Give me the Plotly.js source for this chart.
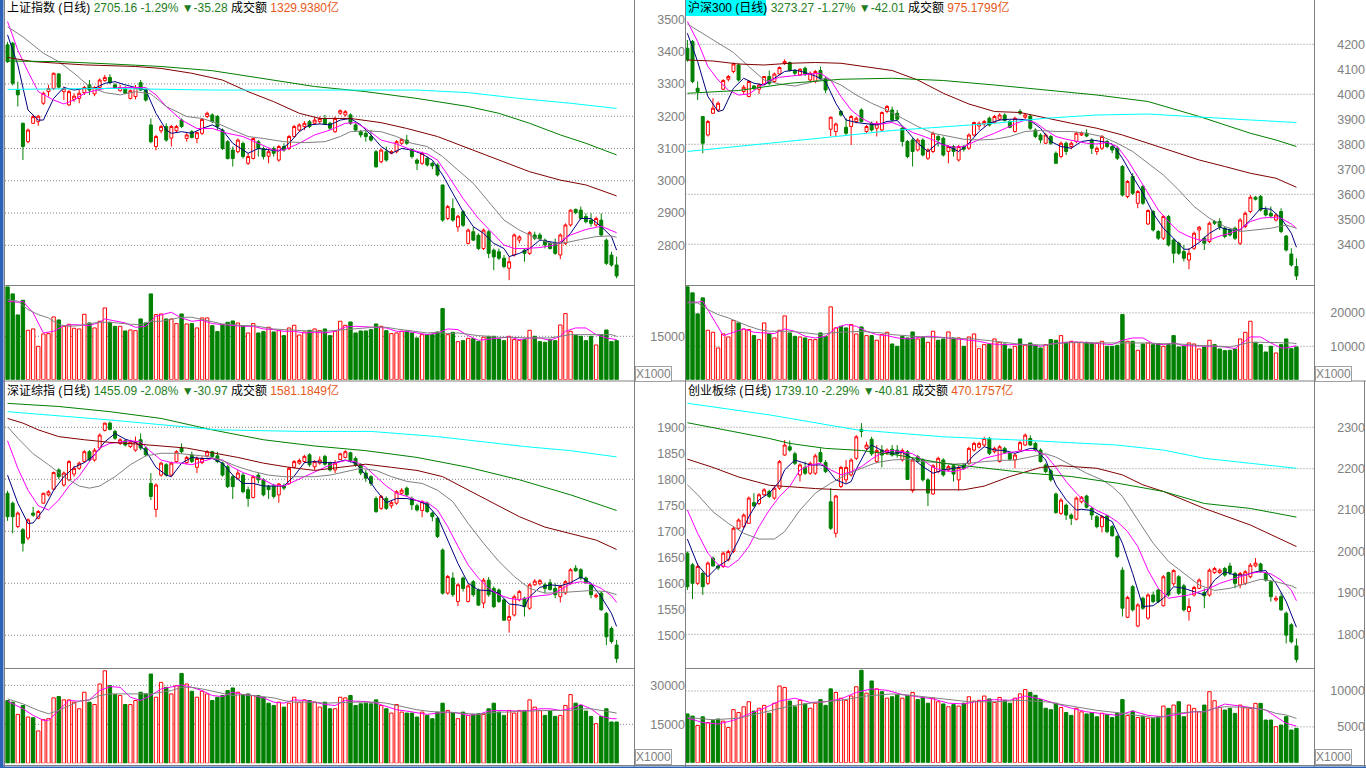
<!DOCTYPE html>
<html>
<head>
<meta charset="utf-8">
<script src="https://cdn.plot.ly/plotly-3.0.1.min.js"></script>
<style>
  body { margin: 0; background: #ffffff; }
  #chart { width: 1366px; height: 768px; }
</style>
</head>
<body>
<div id="chart"></div>
<script>
// ---------- 标题 ----------
var titleName = ['上证指数 (日线)', '沪深300 (日线)', '深证综指 (日线)', '创业板综 (日线)'];
var titleQuote = ['2705.16 -1.29%', '3273.27 -1.27%', '1455.09 -2.08%', '1739.10 -2.29%'];
var titleChange = ['▼-35.28', '▼-42.01', '▼-30.97', '▼-40.81'];
var titleAmount = ['1329.9380亿', '975.1799亿', '1581.1849亿', '470.1757亿'];

// ---------- 刻度 ----------
var shTicks = [3500, 3400, 3300, 3200, 3100, 3000, 2900, 2800];
var shGrid = [3400, 3300, 3200, 3100, 3000, 2900, 2800];
var hsTicks = [4200, 4100, 4000, 3900, 3800, 3700, 3600, 3500, 3400];
var hsGrid = [4200, 4000, 3800, 3600, 3400];
var szTicks = [1900, 1850, 1800, 1750, 1700, 1650, 1600, 1550, 1500];
var szGrid = [1900, 1800, 1700, 1600, 1500];
var cyTicks = [2300, 2200, 2100, 2000, 1900, 1800];
var cyGrid = [2300, 2200, 2100, 2000, 1900, 1800];
var shVolTicks = [15000];
var hsVolTicks = [20000, 10000];
var szVolTicks = [30000, 15000];
var cyVolTicks = [10000, 5000];

// ---------- 上证指数 ----------
var shOpen = [3421,3426,3281,3178,3121,3178,3183,3240,3276,3286, 3331,3276,3235,3252,3255,3273,3297,3269,3289,3310,
  3320,3297,3279,3286,3255,3261,3304,3283,3173,3106, 3155,3168,3132,3155,3188,3131,3152,3131,3147,3199,
  3204,3199,3157,3121,3095,3090,3116,3054,3069,3121, 3100,3076,3100,3064,3106,3100,3137,3157,3168,3183,
  3178,3183,3193,3178,3152,3209,3204,3204,3173,3152, 3147,3137,3090,3059,3090,3085,3090,3116,3126,3097,
  3064,3054,3069,3054,3049,2987,2883,2914,2857,2904, 2806,2842,2831,2790,2842,2785,2780,2760,2729,2770,
  2816,2785,2775,2832,2832,2816,2806,2806,2770,2806, 2863,2911,2909,2889,2878,2863,2878,2816,2770,2739];
var shHigh = [3430,3430,3307,3180,3162,3204,3204,3276,3297,3335, 3333,3292,3281,3271,3281,3294,3312,3293,3317,3328,
  3330,3302,3297,3293,3283,3297,3312,3286,3193,3142, 3173,3178,3173,3173,3193,3147,3157,3152,3193,3214,
  3209,3204,3162,3126,3106,3131,3121,3085,3134,3126, 3106,3100,3106,3111,3116,3142,3173,3178,3185,3188,
  3197,3199,3204,3183,3199,3221,3219,3209,3178,3157, 3157,3157,3095,3100,3106,3095,3126,3131,3142,3100,
  3069,3090,3075,3059,3054,2987,2925,2945,2894,2909, 2852,2857,2837,2852,2847,2790,2790,2770,2765,2837,
  2831,2790,2844,2842,2839,2821,2811,2821,2837,2868, 2911,2914,2920,2899,2899,2889,2899,2821,2780,2765];
var shLow = [3365,3295,3230,3064,3116,3176,3170,3235,3261,3281, 3286,3250,3232,3245,3240,3266,3266,3262,3286,3307,
  3299,3284,3276,3269,3252,3252,3278,3245,3116,3094, 3147,3121,3106,3150,3163,3121,3131,3116,3142,3194,
  3178,3157,3095,3066,3044,3085,3069,3049,3066,3075, 3066,3054,3075,3059,3090,3095,3134,3152,3157,3163,
  3173,3176,3173,3157,3149,3204,3199,3173,3152,3134, 3121,3121,3041,3054,3059,3082,3085,3111,3111,3069,
  3033,3049,3044,3036,3013,2873,2878,2873,2842,2857, 2803,2814,2785,2785,2760,2723,2754,2729,2692,2765,
  2806,2749,2770,2816,2816,2790,2787,2770,2757,2801, 2858,2896,2878,2868,2858,2858,2827,2739,2734,2698];
var shClose = [3369,3302,3266,3106,3157,3199,3200,3271,3286,3333, 3290,3286,3276,3262,3271,3289,3281,3289,3312,3320,
  3304,3286,3289,3271,3279,3289,3281,3250,3121,3137, 3168,3126,3168,3168,3168,3142,3134,3149,3190,3209,
  3183,3168,3100,3069,3069,3126,3075,3075,3131,3100, 3075,3090,3085,3106,3095,3137,3168,3173,3178,3168,
  3188,3193,3176,3163,3193,3217,3214,3178,3157,3142, 3137,3126,3043,3095,3064,3090,3121,3128,3116,3075,
  3054,3085,3049,3046,3018,2878,2920,2878,2890,2862, 2847,2816,2790,2847,2775,2764,2760,2734,2749,2832,
  2826,2775,2839,2822,2820,2801,2790,2775,2832,2863, 2909,2901,2883,2873,2868,2883,2832,2744,2739,2705.16];
var shVol = [32080,29660,22390,27460,17080,17540,11540,15810,15930,21700, 20660,18460,19160,17770,17540,22620,19620,17890,20200,24810,
  19850,18460,18460,16850,17190,16960,21000,19620,29660,22500, 22730,21000,21000,19390,22730,19270,19390,17890,21350,21350,
  18690,16620,19040,19850,20310,19620,18690,16160,19390,16160, 16620,18120,16500,16960,15230,17890,18810,15460,16500,17080,
  17540,16960,17540,15230,16730,20200,18810,19960,16160,16850, 16850,17310,19270,18460,16960,15930,16160,16730,16730,16160,
  14430,15580,15580,15580,16500,24580,15580,16390,13160,13500, 14310,14190,13270,14660,15000,15000,14080,13500,15000,13850,
  13620,13850,17080,15000,13160,12920,13850,13500,18920,22850, 16730,15350,15000,13500,15000,12000,15580,17190,13160,13500];
var shMa5 = [[0,3452],[2,3359],[4,3219],[6,3188],[7,3188],[9,3255],[11,3289],[13,3281],[15,3286],[17,3286],[19,3302],[21,3307],
  [23,3297],[25,3289],[27,3281],[29,3209],[31,3157],[32,3147],[34,3152],[36,3147],[38,3162],[40,3173],[42,3157],[44,3116],
  [46,3095],[47,3085],[49,3100],[51,3095],[53,3092],[55,3116],[57,3152],[59,3173],[61,3176],[63,3173],[65,3188],[67,3193],
  [69,3173],[71,3142],[73,3106],[75,3085],[77,3100],[79,3095],[81,3083],[83,3064],[85,3018],[87,2961],[89,2904],[91,2858],
  [93,2837],[95,2806],[97,2790],[98,2765],[100,2775],[102,2790],[104,2816],[106,2811],[108,2806],[110,2837],[112,2883],
  [114,2883],[116,2858],[118,2827],[119,2785]];
var shMa10 = [[0,3493],[2,3405],[4,3338],[6,3276],[9,3250],[11,3238],[13,3250],[15,3271],[17,3279],[19,3286],[23,3289],
  [27,3289],[29,3266],[31,3230],[34,3188],[37,3162],[40,3162],[43,3147],[46,3137],[49,3116],[52,3095],[54,3095],[57,3116],
  [60,3142],[63,3157],[66,3178],[68,3180],[70,3162],[73,3126],[76,3114],[79,3095],[82,3083],[84,3064],[86,3018],[89,2945],
  [92,2883],[95,2832],[97,2801],[99,2790],[101,2790],[104,2793],[107,2801],[110,2832],[113,2849],[116,2859],[118,2847],[119,2839]];
var shMa20 = [[0,3477],[3,3446],[7,3395],[10,3369],[13,3333],[16,3292],[19,3273],[22,3266],[25,3276],[28,3269],[31,3230],
  [35,3199],[38,3193],[41,3178],[44,3157],[47,3137],[50,3131],[54,3121],[58,3118],[62,3121],[65,3137],[67,3152],[70,3155],
  [73,3152],[76,3137],[79,3116],[82,3106],[85,3075],[88,3033],[91,2992],[94,2935],[97,2878],[100,2847],[103,2825],[106,2806],
  [109,2808],[112,2818],[115,2827],[118,2829],[119,2825]];
var shMa60 = [[0,3382],[5,3369],[15,3359],[25,3354],[30,3348],[36,3333],[42,3312],[47,3276],[52,3245],[57,3209],[61,3193],
  [67,3193],[73,3180],[78,3162],[84,3137],[90,3100],[96,3064],[102,3028],[108,3002],[113,2987],[119,2953]];
var shMa120 = [[0,3371],[10,3369],[20,3362],[30,3354],[40,3341],[50,3317],[60,3292],[70,3276],[80,3255],[90,3230],[96,3209],
  [102,3178],[108,3142],[113,3116],[119,3080]];
var shMa250 = [[0,3283],[20,3286],[40,3281],[60,3281],[70,3283],[80,3281],[90,3273],[100,3255],[110,3240],[119,3224]];
var shVolMa5 = [[0,27120],[2,26770],[3,27120],[5,23080],[7,16160],[9,16730],[11,18690],[13,19040],[16,18690],[18,19850],
  [19,21000],[21,20430],[23,19620],[25,18120],[27,18460],[29,21930],[31,22850],[32,23310],[34,21350],[36,20200],[38,20540],
  [40,19390],[42,19040],[44,18690],[46,18460],[48,18460],[50,17540],[52,17310],[54,16730],[56,16730],[58,16160],[60,16390],
  [62,16160],[64,16730],[66,18230],[68,18460],[70,18230],[72,18230],[74,17890],[76,16730],[78,16730],[80,16160],[82,15580],
  [84,16160],[86,17540],[88,17310],[90,15230],[92,13620],[94,14080],[96,14430],[98,14770],[100,13850],[102,14430],[104,14430],
  [106,13620],[108,15000],[109,16730],[111,17890],[113,17890],[115,15580],[117,14430],[119,13850]];
var shVolMa10 = [[0,27700],[2,27120],[4,24230],[6,22500],[8,21350],[10,19040],[12,18460],[14,18690],[16,19390],[18,19850],
  [20,19850],[22,19390],[24,19160],[26,19040],[28,20200],[30,20200],[32,21000],[34,21580],[36,21580],[38,20770],[40,19850],
  [42,19270],[44,19040],[46,18690],[48,18690],[50,18120],[52,17540],[54,17310],[56,17080],[58,16730],[60,16730],[62,16730],
  [64,16960],[66,17310],[68,17660],[70,17890],[72,18230],[74,18120],[76,17540],[78,17080],[80,16730],[82,16160],[84,16390],
  [86,15930],[88,16160],[90,15580],[92,15230],[94,15000],[96,14660],[98,14660],[100,14430],[102,14430],[104,14430],[106,14430],
  [108,15000],[110,15580],[112,15580],[114,15580],[116,15580],[118,15580],[119,15000]];

// ---------- 沪深300 ----------
var hsOpen = [4184,4211,4024,3911,3837,3924,3937,4020,4060,4091, 4117,4011,3991,4033,4020,4041,4071,4051,4081,4124,
  4127,4095,4077,4104,4057,4051,4095,4064,3860,3851, 3931,3868,3871,3891,3937,3851,3884,3864,3857,3931,
  3937,3924,3864,3811,3817,3777,3817,3744,3771,3831, 3824,3771,3791,3737,3791,3784,3837,3873,3881,3904,
  3887,3900,3917,3891,3851,3931,3908,3913,3857,3837, 3804,3831,3764,3751,3804,3791,3811,3837,3844,3817,
  3771,3784,3811,3791,3784,3711,3591,3671,3564,3631, 3481,3531,3451,3424,3511,3417,3404,3371,3337,3384,
  3457,3424,3411,3491,3491,3464,3457,3464,3404,3471, 3531,3588,3591,3537,3524,3497,3531,3433,3361,3311];
var hsHigh = [4217,4217,4051,3913,3897,3984,3971,4060,4077,4127, 4124,4037,4057,4037,4044,4073,4095,4087,4111,4140,
  4131,4100,4104,4111,4091,4097,4111,4071,3911,3887, 3937,3904,3917,3911,3944,3877,3891,3893,3931,3957,
  3951,3937,3871,3817,3824,3824,3824,3784,3851,3837, 3831,3797,3797,3797,3797,3844,3891,3891,3897,3911,
  3917,3924,3924,3897,3911,3940,3924,3921,3864,3844, 3844,3837,3771,3811,3811,3811,3851,3851,3860,3824,
  3791,3837,3817,3797,3791,3717,3657,3684,3617,3637, 3540,3537,3457,3517,3517,3424,3411,3397,3384,3451,
  3473,3431,3491,3497,3504,3471,3464,3471,3504,3531, 3597,3593,3597,3551,3551,3524,3544,3437,3384,3344];
var hsLow = [4130,4044,3977,3764,3831,3921,3931,4017,4051,4084, 4051,3997,3988,4017,4001,4036,4036,4047,4077,4117,
  4091,4073,4073,4073,4051,4044,4057,4004,3833,3831, 3911,3837,3797,3884,3887,3844,3851,3831,3851,3924,
  3891,3895,3791,3744,3711,3771,3751,3737,3764,3791, 3751,3724,3751,3731,3771,3777,3831,3857,3871,3871,
  3884,3895,3891,3864,3847,3917,3900,3857,3824,3804, 3801,3797,3721,3744,3757,3780,3804,3833,3828,3761,
  3757,3777,3784,3764,3737,3591,3584,3597,3544,3557, 3477,3451,3417,3417,3391,3324,3357,3331,3300,3377,
  3411,3377,3404,3477,3457,3424,3431,3417,3397,3464, 3524,3575,3531,3511,3504,3491,3444,3371,3311,3257];
var hsClose = [4137,4051,4011,3804,3891,3944,3964,4055,4071,4121, 4057,4028,4051,4024,4037,4071,4044,4081,4107,4131,
  4095,4084,4100,4081,4084,4091,4064,4017,3908,3881, 3917,3844,3911,3904,3891,3871,3857,3884,3927,3951,
  3897,3900,3811,3751,3771,3817,3757,3777,3844,3817, 3757,3791,3771,3791,3780,3837,3887,3884,3891,3877,
  3911,3917,3895,3868,3904,3924,3917,3864,3831,3817, 3837,3804,3724,3804,3771,3804,3844,3844,3833,3784,
  3784,3831,3791,3777,3744,3597,3651,3604,3611,3564, 3535,3457,3424,3511,3397,3364,3364,3344,3364,3444,
  3468,3404,3484,3484,3471,3431,3437,3424,3497,3524, 3588,3580,3537,3517,3513,3517,3451,3377,3317,3273.27];
var hsVol = [27800,26000,19700,24500,14800,14200,9500,13700,12800,17700, 17000,15200,15000,13200,12000,17000,13800,12500,14800,19100,
  14000,13000,12800,12500,12000,12000,14000,13000,21800,15500, 16000,15500,16500,13700,15800,13200,13200,11800,13500,14200,
  10700,10000,13000,12500,14300,12200,12800,11200,14500,11800, 12200,14300,12500,12500,10000,12800,13700,9300,10500,10700,
  12200,11200,10700,9200,10000,12200,10300,11000,10300,9500, 10500,12000,11800,13200,11200,11500,11200,11200,11200,11000,
  11000,11500,10000,10000,10300,19500,11500,11500,8800,10700, 11000,10500,10800,10000,10500,13200,9800,10000,11000,10700,
  9200,9800,11800,10500,9200,8700,8800,9200,12200,14200, 17500,11200,10500,8300,10000,8000,10500,12200,9300,9800];
var hsMa5 = [[0,4244],[2,4131],[4,3991],[6,3931],[7,3937],[9,4024],[11,4064],[13,4044],[15,4037],[17,4064],[19,4091],
  [21,4097],[23,4087],[25,4073],[27,4051],[29,3964],[31,3897],[33,3887],[35,3881],[37,3877],[39,3891],[41,3895],[43,3851],
  [45,3804],[47,3771],[49,3807],[51,3791],[53,3771],[55,3804],[57,3851],[59,3884],[61,3897],[63,3900],[65,3900],[67,3895],
  [69,3864],[71,3811],[73,3791],[75,3784],[77,3811],[79,3817],[81,3811],[83,3801],[85,3744],[87,3671],[89,3604],[91,3524],
  [93,3464],[95,3424],[97,3380],[98,3380],[100,3407],[102,3444],[104,3468],[106,3457],[108,3457],[110,3497],[112,3544],
  [114,3540],[116,3504],[118,3444],[119,3388]];
var hsMa10 = [[0,4291],[2,4211],[4,4111],[6,4057],[8,4017],[10,3997],[12,4001],[14,4028],[16,4055],[18,4068],[20,4073],
  [22,4077],[24,4081],[26,4084],[28,4057],[30,3991],[32,3937],[34,3904],[36,3884],[38,3881],[40,3887],[42,3871],[44,3847],
  [46,3833],[48,3817],[50,3797],[52,3788],[54,3791],[56,3811],[58,3828],[60,3844],[62,3864],[64,3881],[66,3897],[68,3887],
  [70,3857],[72,3831],[74,3820],[76,3811],[78,3804],[80,3801],[82,3807],[84,3791],[86,3737],[88,3671],[90,3604],[92,3537],
  [94,3491],[96,3451],[98,3431],[100,3417],[102,3417],[104,3433],[106,3444],[108,3460],[110,3491],[112,3504],[114,3508],
  [116,3504],[118,3481],[119,3464]];
var hsMa20 = [[0,4281],[3,4244],[6,4204],[9,4167],[12,4111],[15,4057],[18,4041],[21,4033],[24,4047],[27,4064],[30,4037],
  [33,3997],[36,3964],[39,3937],[42,3904],[45,3871],[48,3844],[51,3831],[54,3820],[57,3817],[60,3820],[63,3831],[66,3851],
  [69,3855],[72,3851],[75,3851],[78,3844],[81,3831],[84,3804],[87,3771],[90,3724],[93,3677],[96,3617],[99,3551],[102,3504],
  [105,3471],[108,3451],[111,3457],[114,3464],[117,3477],[119,3464]];
var hsMa60 = [[0,4137],[5,4133],[10,4121],[15,4117],[20,4124],[25,4127],[30,4124],[35,4111],[40,4095],[45,4057],[50,4004],
  [55,3961],[60,3931],[65,3927],[70,3904],[75,3884],[80,3864],[85,3837],[90,3804],[95,3771],[100,3737],[105,3711],[110,3684],
  [115,3664],[119,3628]];
var hsMa120 = [[0,4004],[10,4015],[20,4044],[30,4060],[40,4064],[50,4055],[60,4037],[70,4017],[80,3997],[90,3971],[100,3911],
  [110,3844],[115,3817],[119,3791]];
var hsMa250 = [[0,3771],[10,3791],[20,3811],[30,3833],[40,3855],[50,3868],[60,3884],[70,3904],[80,3917],[90,3921],[100,3908],
  [110,3897],[119,3887]];
var hsVolMa5 = [[0,23200],[2,23200],[3,23500],[5,18500],[7,13200],[9,14200],[11,15200],[13,14200],[15,14000],[17,13800],
  [19,15200],[21,14500],[23,13000],[25,12500],[27,13000],[29,15500],[31,16500],[33,16000],[35,14500],[37,13500],[39,13200],
  [41,12500],[43,12200],[45,12500],[47,13000],[49,12800],[51,12500],[53,12200],[55,12000],[57,11500],[59,10800],[61,10500],
  [63,10500],[65,10500],[67,10500],[69,10000],[71,10700],[73,11000],[75,11300],[77,11200],[79,11000],[81,10800],[83,10500],
  [85,11800],[87,12500],[89,12500],[91,10800],[93,10500],[95,11000],[97,10200],[99,10200],[101,10000],[103,10000],[105,9800],
  [107,9300],[108,10500],[110,12800],[112,12800],[114,11000],[116,9500],[117,9500],[119,10200]];
var hsVolMa10 = [[0,23000],[2,23000],[4,21000],[6,19500],[8,18500],[10,17200],[12,16000],[14,15000],[16,14500],[18,14500],
  [20,14500],[22,14200],[24,13800],[26,13500],[28,14000],[30,14200],[32,14500],[34,14500],[36,14200],[38,14000],[40,13500],
  [42,13200],[44,13000],[46,12800],[48,12700],[50,12500],[52,12500],[54,12300],[56,12200],[58,11800],[60,11500],[62,11200],
  [64,10800],[66,10500],[68,10500],[70,10400],[72,10800],[74,11000],[76,11200],[78,11000],[80,11000],[82,11000],[84,11000],
  [86,11200],[88,11000],[90,11000],[92,10800],[94,10800],[96,10700],[98,10500],[100,10200],[102,10200],[104,10000],[106,9800],
  [108,10500],[110,11200],[112,11200],[114,11200],[116,11200],[118,11000],[119,10800]];

// ---------- 深证综指 ----------
var szOpen = [1773,1754,1709,1703,1687,1735,1725,1754,1770,1781, 1818,1789,1799,1810,1821,1834,1853,1837,1860,1894,
  1908,1892,1869,1874,1863,1856,1876,1860,1792,1742, 1808,1828,1808,1834,1860,1832,1847,1823,1832,1845,
  1853,1845,1831,1824,1805,1802,1808,1780,1765,1808, 1799,1786,1787,1770,1787,1792,1823,1831,1834,1847,
  1824,1831,1844,1831,1818,1838,1842,1851,1840,1828, 1812,1805,1763,1744,1763,1749,1754,1773,1783,1763,
  1749,1740,1754,1735,1725,1664,1581,1610,1565,1610, 1565,1603,1587,1562,1606,1590,1587,1568,1529,1539,
  1568,1571,1552,1597,1599,1597,1601,1590,1574,1581, 1600,1629,1626,1610,1597,1574,1581,1542,1513,1481];
var szHigh = [1778,1757,1738,1706,1725,1747,1741,1774,1779,1815, 1821,1815,1837,1826,1834,1856,1856,1860,1888,1909,
  1911,1895,1879,1877,1876,1882,1888,1863,1812,1792, 1834,1831,1834,1856,1869,1845,1853,1844,1844,1856,
  1855,1853,1834,1828,1808,1818,1812,1786,1808,1812, 1802,1789,1791,1793,1792,1824,1837,1840,1847,1850,
  1837,1844,1847,1834,1837,1851,1856,1853,1844,1831, 1818,1808,1767,1770,1767,1759,1779,1783,1786,1767,
  1753,1760,1757,1738,1728,1667,1616,1621,1600,1613, 1599,1606,1590,1610,1612,1594,1590,1571,1558,1578,
  1587,1574,1600,1608,1608,1601,1608,1600,1597,1606, 1629,1635,1629,1613,1600,1581,1584,1545,1517,1491];
var szLow = [1720,1696,1706,1661,1683,1728,1723,1753,1767,1778, 1800,1786,1796,1805,1818,1832,1834,1834,1856,1892,
  1894,1876,1866,1863,1860,1853,1856,1844,1760,1727, 1805,1805,1805,1832,1850,1828,1831,1812,1829,1842,
  1840,1831,1805,1783,1762,1799,1773,1747,1763,1792, 1767,1762,1763,1755,1779,1789,1821,1828,1831,1824,
  1818,1828,1826,1815,1812,1837,1840,1832,1824,1808, 1795,1787,1735,1741,1741,1744,1751,1770,1767,1741,
  1738,1727,1735,1719,1687,1578,1578,1574,1556,1584, 1563,1574,1556,1552,1574,1552,1562,1528,1505,1536,
  1565,1536,1549,1595,1596,1581,1586,1571,1563,1578, 1597,1622,1606,1599,1571,1571,1547,1481,1484,1447];
var szClose = [1728,1728,1735,1677,1722,1731,1738,1773,1776,1813, 1805,1812,1834,1821,1831,1853,1837,1856,1885,1908,
  1896,1879,1876,1866,1872,1872,1860,1847,1767,1789, 1831,1808,1831,1853,1853,1842,1834,1840,1840,1853,
  1844,1834,1808,1786,1786,1812,1776,1763,1805,1799, 1770,1780,1767,1791,1783,1821,1834,1836,1844,1828,
  1834,1837,1829,1818,1831,1849,1853,1836,1828,1812, 1802,1792,1738,1767,1744,1755,1776,1779,1770,1751,
  1741,1757,1738,1728,1690,1581,1613,1578,1597,1590, 1595,1578,1558,1606,1578,1555,1565,1529,1536,1574,
  1584,1555,1597,1604,1605,1590,1588,1578,1594,1603, 1626,1624,1610,1601,1578,1577,1549,1497,1488,1455.09];
var szVol = [24150,23510,18810,22240,17790,17540,12450,16780,17160,25170, 25670,24400,24400,23510,20970,27330,23510,22620,30500,35590,
  29870,26440,26060,22620,22620,24150,27330,26690,34320,25420, 31140,29230,26690,29870,34570,30500,27710,25420,27710,26690,
  24150,25420,26060,27960,28980,27330,26440,26690,26060,26060, 25420,23130,22240,23510,21610,23130,25420,23510,24400,24150,
  23510,21610,23510,20970,20970,25420,25170,26060,22240,22880, 23130,22880,24400,22240,20970,19320,22620,19700,19320,19320,
  17790,19700,18430,17160,19700,23130,20340,19320,17160,19700, 18430,18810,19070,18810,20970,23130,19700,18430,20340,19320,
  20340,20340,24400,21610,20340,18430,20080,18050,18430,22240, 26440,23130,22240,20080,18050,15250,18050,20970,15890,15890];
var szMa5 = [[0,1808],[2,1754],[4,1715],[5,1716],[7,1741],[9,1779],[11,1805],[13,1823],[15,1832],[17,1847],[19,1872],
  [21,1888],[23,1877],[25,1871],[27,1855],[29,1823],[31,1808],[32,1805],[34,1831],[36,1842],[38,1840],[40,1840],[42,1831],
  [44,1808],[46,1792],[48,1792],[50,1787],[52,1787],[54,1787],[56,1806],[58,1832],[60,1834],[62,1832],[64,1832],[66,1837],
  [68,1831],[70,1808],[72,1779],[74,1755],[76,1763],[78,1763],[80,1759],[82,1751],[84,1728],[86,1683],[88,1638],[90,1600],
  [92,1587],[94,1586],[96,1581],[98,1560],[100,1558],[101,1555],[102,1574],[104,1592],[106,1597],[108,1595],[110,1601],
  [112,1612],[114,1600],[116,1574],[118,1542],[119,1517]];
var szMa10 = [[0,1874],[2,1821],[4,1779],[6,1749],[8,1741],[10,1760],[12,1787],[14,1806],[16,1834],[18,1860],[20,1869],
  [22,1871],[24,1874],[26,1872],[28,1853],[30,1837],[32,1832],[34,1831],[36,1828],[38,1834],[40,1840],[42,1837],[44,1823],
  [46,1813],[48,1806],[50,1799],[52,1789],[54,1787],[56,1796],[58,1805],[60,1815],[62,1823],[64,1831],[66,1836],[68,1834],
  [70,1823],[72,1805],[74,1787],[76,1773],[78,1767],[80,1759],[82,1755],[84,1741],[86,1709],[88,1671],[90,1635],[92,1610],
  [94,1590],[96,1578],[98,1571],[100,1568],[102,1573],[104,1576],[106,1578],[108,1587],[110,1599],[112,1603],[114,1599],
  [116,1590],[118,1576],[119,1563]];
var szMa20 = [[0,1901],[2,1879],[5,1849],[8,1828],[11,1805],[14,1787],[16,1783],[18,1787],[21,1805],[24,1828],[27,1845],
  [30,1850],[33,1850],[36,1847],[39,1844],[42,1836],[45,1824],[48,1815],[51,1808],[54,1805],[57,1805],[60,1805],[63,1808],
  [66,1815],[69,1821],[72,1817],[75,1805],[78,1796],[81,1792],[84,1779],[87,1757],[90,1715],[93,1677],[96,1642],[99,1613],
  [102,1590],[105,1581],[108,1582],[111,1584],[114,1586],[117,1584],[119,1578]];
var szMa60 = [[0,1917],[3,1908],[6,1895],[10,1882],[15,1876],[20,1871],[25,1868],[30,1864],[35,1860],[40,1851],[45,1842],
  [50,1831],[55,1823],[60,1817],[65,1823],[70,1829],[75,1823],[80,1817],[85,1805],[90,1779],[95,1754],[100,1728],[105,1708],
  [110,1696],[115,1683],[119,1665]];
var szMa120 = [[0,1946],[10,1940],[20,1930],[30,1917],[40,1895],[50,1876],[60,1864],[70,1855],[80,1842],[90,1823],[100,1799],
  [110,1770],[119,1740]];
var szMa250 = [[0,1930],[20,1914],[41,1895],[58,1892],[71,1892],[84,1882],[93,1872],[101,1863],[110,1855],[119,1843]];
var szVolMa5 = [[0,23890],[3,20970],[5,18430],[7,16520],[8,16520],[10,20340],[12,24150],[14,23890],[16,24400],[18,27960],
  [20,29490],[22,29230],[24,25420],[26,24150],[28,26060],[30,28600],[32,29230],[34,30120],[36,29230],[38,27960],[40,26060],
  [42,25670],[44,27330],[46,26440],[48,26060],[50,25170],[52,23510],[54,23130],[56,24400],[58,24150],[60,23510],[62,22620],
  [64,22240],[66,24150],[68,23890],[70,23770],[72,23130],[74,21860],[76,20590],[78,20080],[80,19320],[82,18810],[84,19320],
  [86,19700],[88,19320],[90,18430],[92,18810],[94,20080],[96,20340],[98,20080],[100,20080],[102,20340],[104,20970],[106,20970],
  [108,20340],[110,20970],[112,22620],[114,20970],[116,18050],[118,17160],[119,17160]];
var szVolMa10 = [[0,24780],[3,22880],[6,20340],[8,19070],[10,20340],[12,22240],[14,23890],[16,24400],[18,26060],[20,26690],
  [22,26690],[24,26690],[26,26690],[28,26690],[30,27330],[32,27960],[34,29230],[36,29230],[38,28600],[40,27710],[42,26690],
  [44,26060],[46,26440],[48,26060],[50,25670],[52,25170],[54,24150],[56,23510],[58,23510],[60,23510],[62,23130],[64,23130],
  [66,23390],[68,23510],[70,23510],[72,23510],[74,23130],[76,22240],[78,21610],[80,20590],[82,20080],[84,19700],[86,19700],
  [88,19320],[90,19070],[92,18810],[94,19320],[96,19700],[98,19700],[100,20080],[102,20080],[104,20340],[106,20340],[108,20340],
  [110,20340],[112,20970],[114,20970],[116,20340],[118,19700],[119,19320]];

// ---------- 创业板综 ----------
var cyOpen = [1996,1968,1923,1947,1923,1984,1965,1964,1980,2000, 2056,2060,2068,2118,2116,2137,2145,2129,2153,2233,
  2253,2236,2185,2203,2189,2189,2239,2215,2120,2044, 2157,2173,2185,2225,2295,2249,2271,2217,2245,2239,
  2247,2245,2221,2241,2147,2229,2221,2173,2139,2193, 2221,2197,2207,2173,2209,2213,2245,2252,2257,2273,
  2241,2217,2249,2237,2221,2245,2257,2273,2261,2245, 2209,2195,2139,2092,2112,2088,2078,2120,2134,2104,
  2084,2060,2086,2060,2036,1955,1841,1915,1820,1887, 1839,1895,1907,1869,1949,1922,1939,1917,1855,1895,
  1911,1901,1895,1949,1949,1959,1965,1947,1919,1923, 1939,1965,1970,1947,1927,1883,1891,1851,1823,1772];
var cyHigh = [2000,1972,1972,1951,1976,1988,1968,2000,2004,2060, 2080,2092,2133,2141,2141,2153,2149,2157,2221,2269,
  2268,2241,2213,2217,2217,2236,2249,2221,2153,2137, 2207,2221,2225,2281,2310,2265,2277,2257,2257,2249,
  2257,2257,2249,2245,2225,2233,2225,2177,2211,2229, 2225,2209,2209,2207,2213,2253,2265,2265,2277,2277,
  2253,2257,2253,2241,2237,2268,2285,2281,2265,2249, 2213,2199,2142,2129,2116,2092,2133,2134,2137,2108,
  2088,2088,2088,2064,2040,1962,1893,1919,1875,1891, 1899,1903,1911,1943,1951,1957,1943,1922,1887,1917,
  1935,1911,1959,1963,1959,1963,1973,1951,1951,1955, 1972,1984,1973,1951,1931,1893,1899,1855,1827,1790];
var cyLow = [1907,1885,1919,1895,1919,1964,1955,1960,1976,1996, 2052,2056,2067,2108,2112,2134,2129,2125,2149,2231,
  2241,2209,2169,2185,2185,2185,2213,2189,2052,2034, 2153,2165,2181,2221,2276,2245,2231,2213,2203,2233,
  2229,2227,2217,2173,2142,2215,2169,2110,2137,2189, 2181,2193,2169,2147,2197,2209,2241,2249,2253,2233,
  2237,2215,2236,2219,2201,2244,2255,2255,2241,2215, 2189,2169,2091,2088,2076,2064,2075,2116,2104,2076,
  2056,2046,2044,2036,1984,1843,1839,1855,1817,1859, 1835,1875,1875,1867,1891,1917,1895,1855,1833,1891,
  1909,1863,1891,1946,1946,1939,1943,1911,1911,1919, 1935,1962,1949,1927,1879,1879,1857,1778,1778,1732];
var cyClose = [1915,1923,1964,1915,1972,1965,1960,1996,2000,2056, 2076,2088,2129,2110,2137,2149,2133,2153,2217,2257,
  2245,2213,2209,2189,2213,2231,2217,2193,2056,2134, 2203,2203,2221,2277,2290,2257,2236,2244,2233,2245,
  2233,2236,2244,2174,2221,2217,2173,2141,2207,2225, 2185,2205,2187,2203,2201,2249,2261,2261,2273,2237,
  2249,2253,2239,2223,2233,2263,2281,2257,2245,2217, 2193,2173,2094,2124,2088,2080,2129,2131,2107,2088,
  2060,2084,2048,2038,1988,1863,1889,1859,1871,1863, 1895,1879,1879,1939,1895,1954,1899,1859,1867,1913,
  1931,1893,1955,1959,1955,1943,1949,1923,1947,1951, 1967,1972,1951,1931,1891,1887,1859,1798,1782,1739.10];
var cyVol = [6800,6500,5200,6400,5600,5900,6100,5800,4900,7400, 7000,7800,8500,7200,7600,8000,6900,8300,10700,10500,
  8600,7800,8700,8200,7600,8300,8800,8000,10300,9800, 9000,8700,9300,10600,12900,9700,11400,10300,9900,9000,
  9200,9500,9000,9400,9800,8800,9100,8300,9000,8500, 8200,7800,8100,7900,8300,9200,8600,8700,9300,8900,
  8400,9100,8700,8300,9000,9600,10200,9800,9400,8800, 7600,7400,8300,7700,7000,6600,7600,7100,6800,7000,
  6400,6900,6700,6300,6900,8800,6600,7200,6300,6500, 6200,6180,6420,7900,7580,8040,8510,6420,8040,7580,
  7110,8040,9900,8650,7720,7350,7580,6880,8040,7670, 7580,8280,8280,5950,5950,5020,5250,6420,4560,4790];
var cyMa5 = [[0,2030],[2,1968],[4,1939],[6,1964],[8,1980],[10,2028],[12,2084],[14,2125],[16,2141],[18,2169],[19,2197],
  [21,2221],[22,2217],[24,2209],[26,2209],[27,2205],[29,2173],[31,2163],[32,2169],[33,2199],[35,2245],[36,2257],[38,2244],
  [40,2237],[42,2239],[44,2225],[46,2205],[48,2189],[50,2197],[52,2201],[54,2205],[56,2233],[58,2253],[60,2245],[62,2244],
  [64,2237],[66,2245],[67,2249],[68,2249],[70,2221],[72,2161],[74,2125],[76,2100],[77,2102],[79,2099],[81,2086],[83,2072],
  [85,2020],[87,1947],[89,1867],[91,1869],[93,1887],[95,1915],[97,1911],[99,1903],[100,1899],[101,1895],[103,1931],[105,1951],
  [107,1943],[109,1943],[111,1951],[113,1954],[115,1923],[117,1879],[119,1817]];
var cyMa10 = [[0,2100],[2,2044],[4,1996],[6,1968],[8,1962],[10,1980],[12,2012],[14,2060],[16,2100],[18,2133],[20,2157],
  [22,2197],[24,2209],[26,2213],[28,2197],[30,2185],[32,2193],[34,2205],[36,2223],[38,2239],[40,2244],[42,2241],[44,2236],
  [46,2221],[48,2203],[50,2195],[52,2193],[54,2199],[56,2211],[58,2225],[60,2231],[62,2237],[64,2241],[66,2244],[68,2244],
  [70,2233],[72,2203],[74,2169],[76,2141],[78,2116],[80,2099],[82,2088],[84,2072],[86,2048],[88,2012],[90,1955],[92,1911],
  [94,1887],[96,1891],[98,1895],[100,1903],[102,1911],[104,1923],[106,1931],[108,1939],[110,1947],[112,1951],[114,1946],
  [116,1931],[118,1907],[119,1881]];
var cyMa20 = [[0,2161],[2,2137],[5,2096],[8,2068],[11,2044],[14,2030],[17,2030],[19,2048],[22,2100],[25,2141],[28,2165],
  [31,2185],[34,2201],[37,2215],[40,2221],[43,2223],[46,2217],[49,2215],[52,2211],[55,2213],[58,2217],[61,2220],[64,2221],
  [67,2228],[70,2236],[72,2228],[75,2209],[78,2189],[81,2173],[83,2157],[85,2133],[88,2076],[91,2020],[94,1976],[97,1947],
  [100,1919],[103,1906],[106,1911],[109,1922],[112,1933],[115,1927],[118,1917],[119,1911]];
var cyMa60 = [[0,2223],[5,2203],[10,2180],[16,2160],[25,2152],[30,2149],[54,2149],[58,2158],[63,2181],[69,2203],[73,2207],
  [80,2201],[85,2185],[89,2161],[93,2145],[101,2104],[110,2064],[119,2012]];
var cyMa120 = [[0,2311],[16,2273],[20,2261],[27,2249],[34,2244],[41,2233],[50,2213],[58,2201],[67,2189],[75,2181],[84,2165],
  [93,2145],[101,2116],[110,2104],[119,2083]];
var cyMa250 = [[0,2358],[16,2330],[33,2294],[50,2277],[67,2268],[84,2257],[93,2245],[101,2225],[110,2213],[119,2201]];
var cyVolMa5 = [[0,6250],[3,5600],[6,5400],[9,5900],[12,6800],[15,7600],[18,8600],[21,9000],[24,8400],[27,8500],[30,8900],
  [33,9800],[36,10300],[39,10100],[42,9500],[45,9200],[48,8900],[51,8300],[54,8200],[57,8600],[60,8800],[63,8700],[66,9300],
  [69,8900],[72,8200],[75,7600],[78,7100],[81,6800],[84,6600],[87,7200],[90,6600],[93,6420],[95,6650],[97,6880],[99,7110],
  [101,7110],[103,7580],[105,8180],[107,8040],[109,7810],[111,7580],[113,7350],[115,6420],[117,5490],[119,5110]];
var cyVolMa10 = [[0,6300],[5,6000],[10,6200],[15,7000],[20,7900],[25,8400],[30,8700],[35,9300],[40,9600],[45,9300],[50,8900],
  [55,8500],[60,8500],[65,8700],[70,8500],[75,7900],[80,7300],[85,6900],[88,6600],[91,6280],[93,6420],[95,6880],[97,6980],
  [99,7110],[101,7110],[103,7580],[105,7810],[107,7810],[109,7720],[111,7580],[113,7350],[115,6880],[117,6650],[119,6180]];


////////////////////
// 面板与坐标设置 //
////////////////////

var W = 1366, H = 768;
function px(x) { return x / W; }
function py(y) { return 1 - y / H; }

var upColor = '#ff0000', downColor = '#008000', axisGray = '#808080';
var maColors = ['#000080', '#ff00ff', '#808080', '#800000', '#008000', '#00ffff'];
var volMaColors = ['#ff00ff', '#808080'];
var tickFont = { family: '"Liberation Sans", Arial, sans-serif', size: 12.5, color: axisGray };
var titleFont = { family: '"Liberation Sans", Arial, "Noto Sans CJK SC", sans-serif', size: 12, color: '#000000' };

var panels = [
  { o: shOpen, h: shHigh, l: shLow, c: shClose, v: shVol,
    ma: [shMa5, shMa10, shMa20, shMa60, shMa120, shMa250], vma: [shVolMa5, shVolMa10],
    xd: [5, 633.5], xr: [-0.5, 122.3], pd: [0, 285], pr: [2677, 3560], vd: [285.5, 379.7], vr: [0, 32560],
    ticks: shTicks, grid: shGrid, vticks: shVolTicks, labelX: 685, titleX: 5, titleY: 8, boxX: 635, boxY: 366 },
  { o: hsOpen, h: hsHigh, l: hsLow, c: hsClose, v: hsVol,
    ma: [hsMa5, hsMa10, hsMa20, hsMa60, hsMa120, hsMa250], vma: [hsVolMa5, hsVolMa10],
    xd: [685.5, 1314], xr: [-0.37, 122.43], pd: [0, 285], pr: [3237, 4377], vd: [285.5, 379.7], vr: [0, 28200],
    ticks: hsTicks, grid: hsGrid, vticks: hsVolTicks, labelX: 1365, titleX: 686, titleY: 8, boxX: 1315, boxY: 366 },
  { o: szOpen, h: szHigh, l: szLow, c: szClose, v: szVol,
    ma: [szMa5, szMa10, szMa20, szMa60, szMa120, szMa250], vma: [szVolMa5, szVolMa10],
    xd: [5, 633.5], xr: [-0.5, 122.3], pd: [381, 668], pr: [1437, 1989], vd: [668.5, 763.3], vr: [0, 36460],
    ticks: szTicks, grid: szGrid, vticks: szVolTicks, labelX: 685, titleX: 5, titleY: 390, boxX: 635, boxY: 749 },
  { o: cyOpen, h: cyHigh, l: cyLow, c: cyClose, v: cyVol,
    ma: [cyMa5, cyMa10, cyMa20, cyMa60, cyMa120, cyMa250], vma: [cyVolMa5, cyVolMa10],
    xd: [685.5, 1314], xr: [-0.37, 122.43], pd: [381, 668], pr: [1718.6, 2411.8], vd: [668.5, 762.7], vr: [0, 13140],
    ticks: cyTicks, grid: cyGrid, vticks: cyVolTicks, labelX: 1365, titleX: 686, titleY: 390, boxX: 1315, boxY: 749 }
];

var data = [], shapes = [], annotations = [];
var layout = {
  width: W, height: H,
  margin: { l: 0, r: 0, t: 0, b: 0, pad: 0 },
  paper_bgcolor: '#ffffff',
  plot_bgcolor: 'rgba(0,0,0,0)',
  showlegend: false,
  boxgap: 0.18
};

function sfx(n) { return n === 1 ? '' : String(n); }
function gridLine(xa, ya, v) {
  return { type: 'line', xref: xa + ' domain', x0: 0, x1: 1, yref: ya, y0: v, y1: v, layer: 'below',
    line: { color: axisGray, width: 1, dash: '1px,2px' } };
}
function yAxis(domain, range, ticks, pos) {
  return { domain: [py(domain[1]), py(domain[0])], range: range, anchor: 'free', position: px(pos), side: 'left',
    showgrid: false, zeroline: false, showline: false, ticks: '', tickmode: 'array',
    tickvals: ticks, ticktext: ticks.map(String), tickfont: tickFont, fixedrange: true };
}

panels.forEach(function (p, k) {
  var xn = sfx(k + 1), ypn = sfx(2 * k + 1), yvn = sfx(2 * k + 2);
  var xa = 'x' + xn, yp = 'y' + ypn, yv = 'y' + yvn;
  var days = p.c.map(function (d, i) { return i; });

  layout['xaxis' + xn] = { domain: [px(p.xd[0]), px(p.xd[1])], range: p.xr, visible: false, fixedrange: true,
    anchor: yp, rangeslider: { visible: false } };
  layout['yaxis' + ypn] = yAxis(p.pd, p.pr, p.ticks, p.labelX);
  layout['yaxis' + yvn] = yAxis(p.vd, p.vr, p.vticks, p.labelX);

  // K线
  data.push({
    type: 'candlestick', x: days, open: p.o, high: p.h, low: p.l, close: p.c,
    xaxis: xa, yaxis: yp, whiskerwidth: 0,
    increasing: { line: { color: upColor, width: 1 }, fillcolor: '#ffffff' },
    decreasing: { line: { color: downColor, width: 1 }, fillcolor: downColor }
  });
  // 均线
  p.ma.forEach(function (pts, j) {
    data.push({ type: 'scatter', mode: 'lines', xaxis: xa, yaxis: yp,
      x: pts.map(function (d) { return d[0]; }), y: pts.map(function (d) { return d[1]; }),
      line: { color: maColors[j], width: 1 } });
  });
  // 成交量
  var up = p.c.map(function (c, i) { return c >= p.o[i]; });
  data.push({
    type: 'bar', x: days, y: p.v, xaxis: xa, yaxis: yv, width: 0.66,
    marker: { color: up.map(function (u) { return u ? '#ffffff' : downColor; }),
      line: { color: up.map(function (u) { return u ? upColor : downColor; }), width: 1 } }
  });
  p.vma.forEach(function (pts, j) {
    data.push({ type: 'scatter', mode: 'lines', xaxis: xa, yaxis: yv,
      x: pts.map(function (d) { return d[0]; }), y: pts.map(function (d) { return d[1]; }),
      line: { color: volMaColors[j], width: 1 } });
  });

  // 网格
  p.grid.forEach(function (v) { shapes.push(gridLine(xa, yp, v)); });
  p.vticks.forEach(function (v) { shapes.push(gridLine(xa, yv, v)); });

  // 标题
  annotations.push({
    xref: 'paper', yref: 'paper', x: px(p.titleX), y: py(p.titleY), xanchor: 'left', yanchor: 'middle',
    showarrow: false, font: titleFont,
    text: titleName[k] + ' <span style="color:#1e7e1e">' + titleQuote[k] + ' ' + titleChange[k] + '</span> 成交额 ' +
      '<span style="color:#e8581a">' + titleAmount[k] + '</span>'
  });
  // X1000
  annotations.push({
    xref: 'paper', yref: 'paper', x: px(p.boxX), y: py(p.boxY), xanchor: 'left', yanchor: 'top',
    showarrow: false, text: 'X1000', bgcolor: '#ffffff', bordercolor: '#a0a0a0', borderwidth: 1, borderpad: 0,
    font: { family: '"Liberation Sans", Arial, sans-serif', size: 12, color: axisGray }
  });
});

// 沪深300 标题底色
shapes.push({ type: 'rect', xref: 'paper', yref: 'paper', x0: px(685.5), x1: px(766), y0: py(16), y1: py(0),
  fillcolor: '#00ffff', line: { width: 0 }, layer: 'above' });

// 边框
function hLine(y, x0, x1) {
  shapes.push({ type: 'line', xref: 'paper', yref: 'paper', x0: px(x0), x1: px(x1), y0: py(y), y1: py(y),
    layer: 'above', line: { color: axisGray, width: 1 } });
}
function vLine(x, y0, y1) {
  shapes.push({ type: 'line', xref: 'paper', yref: 'paper', x0: px(x), x1: px(x), y0: py(y0), y1: py(y1),
    layer: 'above', line: { color: axisGray, width: 1 } });
}
vLine(4.5, 0, 768);
vLine(634.5, 0, 768);
vLine(685.5, 0, 768);
vLine(1314.5, 0, 768);
vLine(1364.5, 381, 768);
hLine(285.5, 4.5, 634.5);
hLine(285.5, 685.5, 1314.5);
hLine(381, 0, 1366);
hLine(668.5, 4.5, 634.5);
hLine(668.5, 685.5, 1314.5);
hLine(765.5, 0, 1366);
shapes.push({ type: 'rect', xref: 'paper', yref: 'paper', x0: 0, x1: px(3.5), y0: 0, y1: 1,
  fillcolor: '#2d62b8', line: { width: 0 }, layer: 'above' });
shapes.push({ type: 'rect', xref: 'paper', yref: 'paper', x0: 0, x1: 1, y0: 0, y1: py(766.5),
  fillcolor: '#2d62b8', line: { width: 0 }, layer: 'above' });

layout.shapes = shapes;
layout.annotations = annotations;

Plotly.newPlot('chart', data, layout, { staticPlot: true, displayModeBar: false });
</script>
</body>
</html>
